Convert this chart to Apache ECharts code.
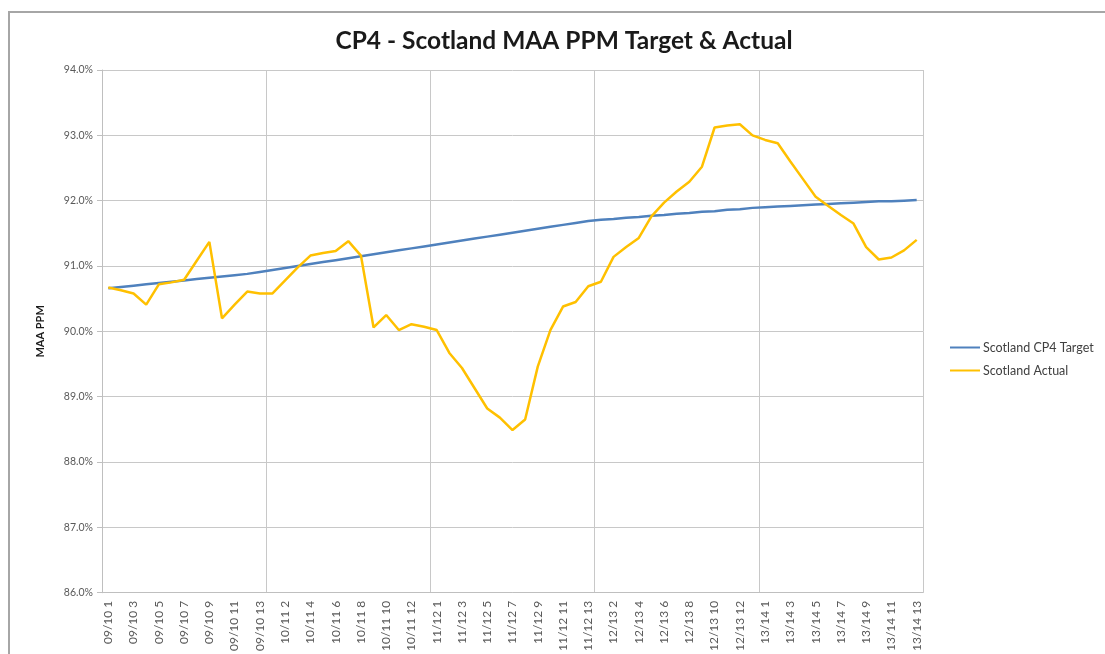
<!DOCTYPE html>
<html>
<head>
<meta charset="utf-8">
<title>CP4 - Scotland MAA PPM Target & Actual</title>
<script src="https://cdn.jsdelivr.net/npm/echarts@6/dist/echarts.min.js"></script>
<style>
  html, body { margin: 0; padding: 0; background: #fff; }
  #chart { width: 1105px; height: 654px; }
</style>
</head>
<body>
<div id="chart"></div>
<script>
// rail years, 13 periods each
const years = ['09/10', '10/11', '11/12', '12/13', '13/14']
const periods = [1, 2, 3, 4, 5, 6, 7, 8, 9, 10, 11, 12, 13]
const categories = years.flatMap(y => periods.map(p => y + ' ' + p))

const yTicks = { min: 86, max: 94, step: 1 }

const targetData = [
  90.66, 90.68, 90.70, 90.72, 90.74, 90.76, 90.78, 90.80, 90.82, 90.84, 90.86, 90.88, 90.91,
  90.94, 90.97, 91.00, 91.03, 91.06, 91.09, 91.12, 91.15, 91.18, 91.21, 91.24, 91.27, 91.30,
  91.33, 91.36, 91.39, 91.42, 91.45, 91.48, 91.51, 91.54, 91.57, 91.60, 91.63, 91.66, 91.69,
  91.71, 91.72, 91.74, 91.75, 91.77, 91.78, 91.80, 91.81, 91.83, 91.84, 91.86, 91.87, 91.89,
  91.90, 91.91, 91.92, 91.93, 91.94, 91.95, 91.96, 91.97, 91.98, 91.99, 91.99, 92.00, 92.01
]

const actualData = [
  90.67, 90.63, 90.58, 90.41, 90.72, 90.75, 90.79, 91.08, 91.37, 90.20, 90.41, 90.61, 90.58,
  90.58, 90.78, 90.98, 91.16, 91.20, 91.23, 91.38, 91.16, 90.06, 90.25, 90.02, 90.11, 90.07,
  90.02, 89.67, 89.44, 89.13, 88.82, 88.68, 88.49, 88.65, 89.46, 90.02, 90.38, 90.45, 90.69,
  90.76, 91.14, 91.29, 91.43, 91.76, 91.97, 92.14, 92.29, 92.52, 93.12, 93.15, 93.17, 93.00,
  92.93, 92.88, 92.60, 92.33, 92.06, 91.92, 91.78, 91.65, 91.29, 91.10, 91.13, 91.24, 91.40
]

const chart = echarts.init(document.getElementById('chart'))

// gridlines / ticks only at the start of each year
const yearMark = (index) => index % 13 === 0

chart.setOption({
  animation: false,
  textStyle: { fontFamily: 'Lato, "Open Sans", sans-serif' },
  color: ['#4f81bd', '#ffc000'],
  graphic: [
    {
      type: 'rect',
      shape: { x: 9, y: 12, width: 1110, height: 660 },
      style: { fill: 'none', stroke: '#a6a6a6', lineWidth: 2 },
      silent: true
    }
  ],
  title: {
    text: 'CP4 - Scotland MAA PPM Target & Actual',
    left: 559,
    textAlign: 'center',
    top: 24,
    textStyle: { fontSize: 24.5, fontWeight: 'bold', color: '#1a1a1a', fontFamily: 'Lato' }
  },
  legend: {
    orient: 'vertical',
    left: 945,
    top: 336,
    itemWidth: 30,
    itemHeight: 2,
    itemGap: 10,
    icon: 'rect',
    textStyle: { fontSize: 12.5, color: '#404040', padding: [0, 0, 0, -2] },
    data: ['Scotland CP4 Target', 'Scotland Actual']
  },
  grid: {
    left: 102,
    right: 182,
    top: 70,
    bottom: 61
  },
  xAxis: {
    type: 'category',
    data: categories,
    boundaryGap: true,
    axisLine: { lineStyle: { color: '#bfbfbf' } },
    axisTick: { interval: yearMark, length: 5, lineStyle: { color: '#bfbfbf' } },
    splitLine: { show: true, interval: yearMark, lineStyle: { color: '#c8c8c8', width: 1 } },
    axisLabel: {
      interval: 1,
      rotate: 90,
      fontSize: 12,
      color: '#595959',
      margin: 8
    }
  },
  yAxis: {
    type: 'value',
    min: yTicks.min,
    max: yTicks.max,
    interval: yTicks.step,
    name: 'MAA PPM',
    nameLocation: 'middle',
    nameGap: 56,
    nameTextStyle: { fontSize: 11, fontWeight: 'bold', color: '#1a1a1a' },
    axisLine: { show: true, lineStyle: { color: '#bfbfbf' } },
    axisTick: { show: true, length: 5, lineStyle: { color: '#bfbfbf' } },
    splitLine: { lineStyle: { color: '#c8c8c8', width: 1 } },
    axisLabel: {
      fontSize: 10.5,
      color: '#595959',
      margin: 9,
      formatter: (v) => v.toFixed(1) + '%'
    }
  },
  series: [
    {
      name: 'Scotland CP4 Target',
      type: 'line',
      data: targetData,
      symbol: 'none',
      lineStyle: { width: 2.5, color: '#4f81bd' }
    },
    {
      name: 'Scotland Actual',
      type: 'line',
      data: actualData,
      symbol: 'none',
      lineStyle: { width: 2.5, color: '#ffc000' }
    }
  ]
})
</script>
</body>
</html>
